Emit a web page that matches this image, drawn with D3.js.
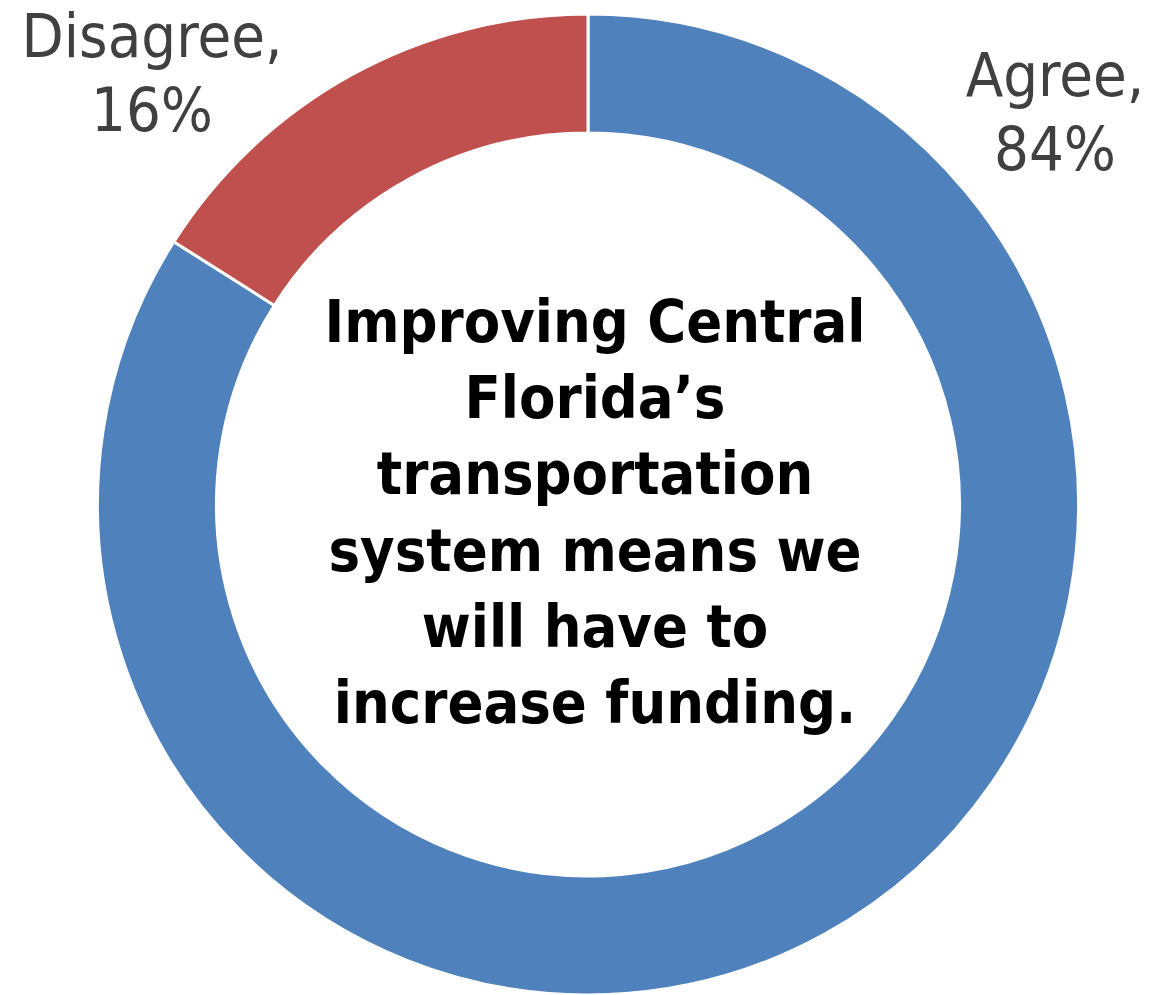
<!DOCTYPE html>
<meta charset="utf-8">
<style>
body { margin: 0; background: #fff; }
.label { fill: #404040; font-family: "DejaVu Sans Condensed", "DejaVu Sans", sans-serif; font-stretch: condensed; font-size: 61px; }
.center { fill: #000; font-family: "DejaVu Sans Condensed", "DejaVu Sans", sans-serif; font-stretch: condensed; font-weight: bold; font-size: 59px; }
</style>
<svg width="1166" height="995"></svg>
<script src="https://cdn.jsdelivr.net/npm/d3@7"></script>
<script>

var categories = ["Agree", "Disagree"];
var values = [84, 16];
var colors = ["#4F81BD", "#C0504D"];
var centerLines = ["Improving Central", "Florida\u2019s", "transportation", "system means we", "will have to", "increase funding."];

var svg = d3.select("svg"),
    width = +svg.attr("width"),
    height = +svg.attr("height");

var cx = 588, cy = 504.5,
    outerR = 490.5, innerR = 371.5;

var data = categories.map(function(c, i) { return {name: c, value: values[i]}; });

var pie = d3.pie()
    .sort(null)
    .value(function(d) { return d.value; });

var arc = d3.arc()
    .innerRadius(innerR)
    .outerRadius(outerR);

var color = d3.scaleOrdinal().domain(categories).range(colors);

var g = svg.append("g").attr("transform", "translate(" + cx + "," + cy + ")");

g.selectAll("path")
    .data(pie(data))
  .enter().append("path")
    .attr("d", arc)
    .attr("fill", function(d) { return color(d.data.name); })
    .attr("stroke", "#fff")
    .attr("stroke-width", 3)
    .attr("stroke-linejoin", "round");

// data labels, placed where excel put them (relative to the center)
var labelPos = {Agree: [467, -409], Disagree: [-436, -448]};
var lineH = 74;

var labels = svg.append("g").selectAll("text")
    .data(data)
  .enter().append("text")
    .attr("class", "label")
    .attr("text-anchor", "middle")
    .attr("transform", function(d) {
      var p = labelPos[d.name];
      return "translate(" + (cx + p[0]) + "," + (cy + p[1]) + ")";
    });

labels.append("tspan").attr("x", 0).attr("y", 0).text(function(d) { return d.name + ","; });
labels.append("tspan").attr("x", 0).attr("y", lineH).text(function(d) { return d.value + "%"; });

// center text
var ct = svg.append("text")
    .attr("class", "center")
    .attr("text-anchor", "middle")
    .attr("transform", "translate(" + (cx + 7) + "," + 342 + ")");

ct.selectAll("tspan")
    .data(centerLines)
  .enter().append("tspan")
    .attr("x", 0)
    .attr("y", function(d, i) { return i * 76.2; })
    .text(function(d) { return d; });

</script>
